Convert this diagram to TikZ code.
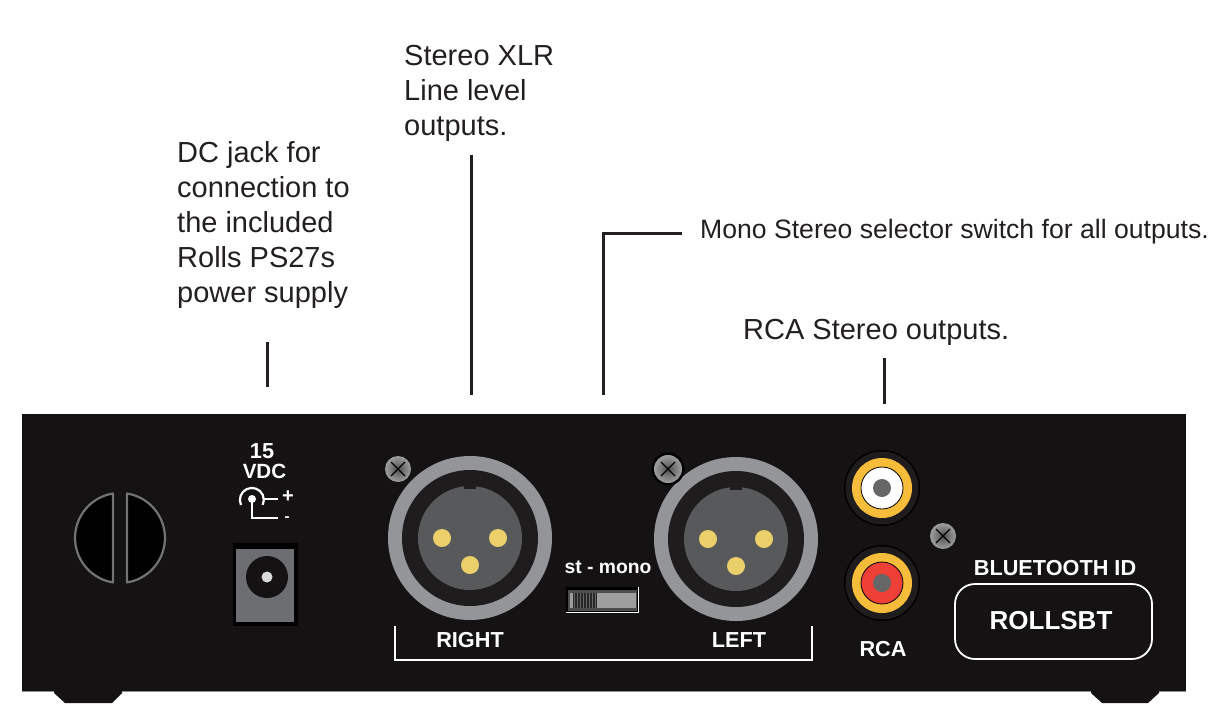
\documentclass[tikz,border=0pt]{standalone}
\usepackage{fontspec}
\setmainfont{Liberation Sans}
\definecolor{body}{HTML}{141213}
\definecolor{ink}{HTML}{231F20}
\definecolor{ringgrey}{HTML}{939598}
\definecolor{coregrey}{HTML}{58595B}
\definecolor{darkring}{HTML}{1E1C1D}
\definecolor{pin}{HTML}{EBCF6A}
\definecolor{rcay}{HTML}{F8BC3B}
\definecolor{rcar}{HTML}{EE4036}
\definecolor{jackgrey}{HTML}{6D6E71}
\tikzset{
  x=1pt,y=-1pt,
  note/.style={font=\fontsize{29}{35}\selectfont,text=ink,align=left,inner sep=0pt,anchor=west},
  lab/.style={font=\bfseries\fontsize{21.7}{21.7}\selectfont,text=white,inner sep=0pt},
  leader/.style={draw=ink,line width=3pt},
  whiteline/.style={draw=white,line width=2.2pt},
  vent/.style={draw=black!55,fill=black,line width=2.2pt,line join=round},
  pinstyle/.style={fill=pin,draw=none},
}
\newcommand{\screw}[3]{%
  \shade[inner color=black!68,outer color=black!38] (#1,#2) circle (#3);
  \draw[black,line width=1.1pt] (#1-7,#2-7) -- (#1+7,#2+7) (#1+7,#2-7) -- (#1-7,#2+7);}
\newcommand{\xlr}[3]{%
  \fill[ringgrey] (#1,#2) circle (82);
  \fill[darkring] (#1,#2) circle (68);
  \fill[coregrey] (#1,#2) circle (52);
  \fill[darkring] (#1-6,#2-52.5) rectangle (#1+6,#2-49);
  \fill[pinstyle] (#1-28,#2) circle (9);
  \fill[pinstyle] (#1+28,#2) circle (9);
  \fill[pinstyle] (#1,#2+27) circle (9);}
\newcommand{\rca}[3]{%
  \fill[black] (#1,#2) circle (38);
  \fill[darkring] (#1,#2) circle (36.5);
  \fill[rcay] (#1,#2) circle (30);
  \fill[#3,draw=black,line width=.8pt] (#1,#2) circle (21);
  \fill[black!60] (#1,#2) circle (9);}
\begin{document}
\begin{tikzpicture}
\useasboundingbox (0,0) rectangle (1223,723);
% feet
\fill[body] (54,690) -- (122,690) -- (122,693) -- (112,703) -- (65,703) -- (54,693) -- cycle;
\fill[body] (1091,690) -- (1159,690) -- (1159,693) -- (1148,703) -- (1102,703) -- (1091,693) -- cycle;
% body
\fill[body] (22,414) rectangle (1186,691);
\draw[black!45,line width=.8pt] (22,691.5) -- (54,691.5) (122,691.5) -- (1091,691.5) (1159,691.5) -- (1186,691.5);
% vent
\draw[vent] (113,493.5) arc[radius=45,start angle=261,end angle=99] -- cycle;
\draw[vent] (127,493.5) arc[radius=45,start angle=-81,end angle=81] -- cycle;
% DC symbol
\node[lab] (n15) at (262,451) {15};
\node[lab,font=\bfseries\fontsize{20.6}{20.6}\selectfont] (nvdc) at (264.5,471) {VDC};
\draw[whiteline] (241,505) arc[radius=12,start angle=155,end angle=385];
\fill[white] (252,499) circle (4);
\draw[whiteline] (252,499) -- (252,518) -- (278,518);
\draw[whiteline] (263,499) -- (278,499);
\node[lab,font=\bfseries\fontsize{20}{20}\selectfont] (nplus) at (288,497) {+};
\node[lab,font=\bfseries\fontsize{15}{15}\selectfont] (nminus) at (287,519) {-};
% DC jack
\fill[black] (233,543) rectangle (298,626);
\fill[jackgrey] (236,549) rectangle (294,622);
\fill[body] (267,577) circle (21);
\fill[black!15] (267,577) circle (5.5);
% XLR
\xlr{470}{538}{r}
\xlr{736}{539}{l}
\screw{398}{469}{13}
\fill[black] (668,469) circle (16.5);
\screw{668}{469}{14}
\screw{943}{536}{13}
% switch
\fill[white] (566,587) rectangle (639,613);
\fill[black] (566,587) rectangle (638,611.5);
\fill[black!70] (568,590) rectangle (637,611);
\fill[black!38] (570,593) rectangle (636,608);
\fill[black!85] (573,593) rectangle (597,608);
\foreach \i in {0,...,7} \fill[black!60] (574+\i*3,593) rectangle (575+\i*3,608);
\node[lab,font=\bfseries\fontsize{19.3}{19.3}\selectfont] (nst) at (608,567) {st - mono};
% bracket
\draw[whiteline] (395,626) -- (395,660) -- (812,660) -- (812,626);
\node[lab] (nright) at (470,640) {RIGHT};
\node[lab] (nleft) at (739,640) {LEFT};
% RCA
\rca{882}{488}{white}
\rca{882}{583}{rcar}
\node[lab] (nrca) at (883,649) {RCA};
% Bluetooth
\node[lab] (nbt) at (1055,568.5) {BLUETOOTH ID};
\node[draw=white,line width=1.8pt,rounded corners=20pt,minimum width=197pt,minimum height=75pt,inner sep=0pt] (nid) at (1053.5,621.5) {};
\node[lab,font=\bfseries\fontsize{26}{26}\selectfont] (nidtext) at (1051,621) {ROLLSBT};
% notes
\node[note] (tdc) at (177,225) {DC jack for\\connection to\\the included\\Rolls PS27s\\power supply};
\node[note] (txlr) at (404,93) {Stereo XLR\\Line level\\outputs.};
\node[note,font=\fontsize{26.6}{35}\selectfont] (tmono) at (700,232) {Mono Stereo selector switch for all outputs.};
\node[note] (trca) at (743,332) {RCA Stereo outputs.};
% leaders
\coordinate (a1) at (267,342); \coordinate (a2) at (267,387);
\coordinate (b1) at (471,155); \coordinate (b2) at (471,395);
\coordinate (c1) at (682,233); \coordinate (c2) at (603,233); \coordinate (c3) at (603,395);
\coordinate (d1) at (884,358); \coordinate (d2) at (884,404);
\draw[leader] (a1) -- (a2);
\draw[leader] (b1) -- (b2);
\draw[leader] (c1) -- (c2) -- (c3);
\draw[leader] (d1) -- (d2);
\end{tikzpicture}
\end{document}
